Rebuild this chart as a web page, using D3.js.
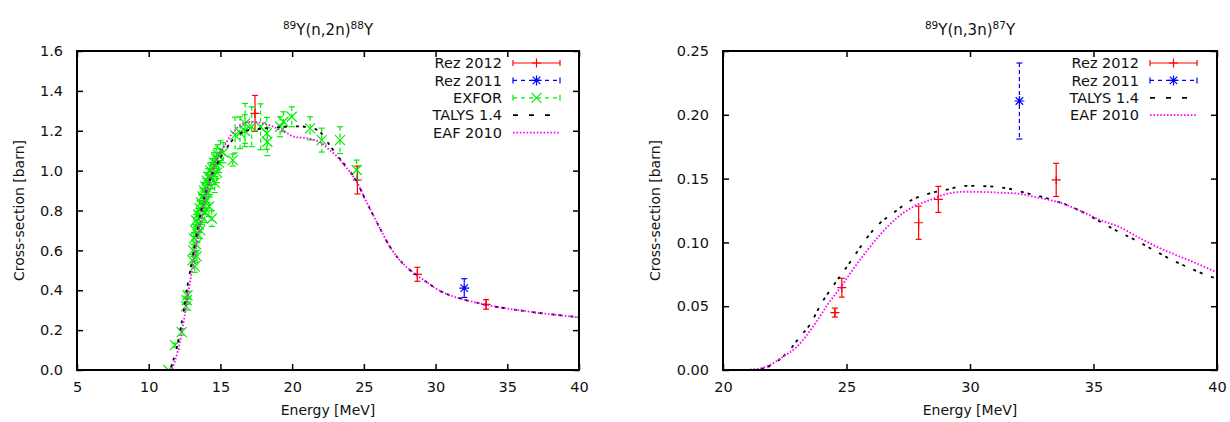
<!DOCTYPE html>
<html>
<head>
<meta charset="utf-8">
<script src="https://cdn.jsdelivr.net/npm/d3@7"></script>
<style>
  body { margin: 0; background: #fff; }
  svg text { font-family: "DejaVu Sans", sans-serif; fill: #111; }
</style>
</head>
<body>
<svg id="chart" width="1230" height="422"></svg>
<script>
// ---------- 89Y(n,2n)88Y ----------
// measured points: [energy MeV, cross-section barn, uncertainty barn]
const rez2012_2n = [[17.41, 1.287, 0.09], [24.55, 0.953, 0.07], [28.73, 0.480, 0.035], [33.52, 0.329, 0.024]];
const rez2011_2n = [[32.0, 0.411, 0.047]];
const exfor_2n = [
  [11.37, 0.0, 0.0], [11.83, 0.125, 0.01], [12.3, 0.19, 0.015], [12.6, 0.32, 0.02], [12.65, 0.35, 0.02], [12.7, 0.375, 0.02],
  [13.05, 0.55, 0.03], [13.1, 0.60, 0.03], [13.15, 0.66, 0.03], [13.2, 0.52, 0.03], [13.25, 0.70, 0.03], [13.3, 0.63, 0.04],
  [13.3, 0.75, 0.03], [13.35, 0.57, 0.03], [13.4, 0.68, 0.04], [13.45, 0.78, 0.03], [13.5, 0.73, 0.04], [13.55, 0.81, 0.04],
  [13.6, 0.70, 0.04], [13.65, 0.84, 0.04], [13.7, 0.77, 0.04], [13.75, 0.87, 0.04], [13.8, 0.82, 0.04], [13.85, 0.90, 0.04],
  [13.9, 0.79, 0.05], [13.95, 0.92, 0.04], [14.0, 0.85, 0.04], [14.05, 0.95, 0.04], [14.1, 0.89, 0.05], [14.15, 0.97, 0.04],
  [14.2, 0.82, 0.05], [14.25, 0.93, 0.05], [14.3, 1.00, 0.04], [14.35, 0.96, 0.05], [14.4, 0.76, 0.04], [14.45, 1.01, 0.05],
  [14.5, 0.98, 0.05], [14.55, 1.04, 0.05], [14.6, 0.94, 0.05], [14.65, 1.02, 0.05], [14.7, 1.06, 0.05], [14.75, 0.99, 0.05],
  [14.8, 1.08, 0.05], [14.9, 1.04, 0.05], [15.0, 1.10, 0.05], [15.2, 1.09, 0.05],
  [15.86, 1.053, 0.03], [16.02, 1.178, 0.09], [16.37, 1.19, 0.08], [16.7, 1.20, 0.08], [16.72, 1.237, 0.10], [17.18, 1.22, 0.10],
  [17.8, 1.22, 0.115], [18.23, 1.187, 0.08], [18.27, 1.145, 0.07], [19.16, 1.22, 0.05], [19.39, 1.245, 0.05], [19.97, 1.27, 0.05],
  [21.25, 1.212, 0.058], [22.06, 1.153, 0.06], [23.34, 1.153, 0.067], [24.5, 1.003, 0.05]
];
// evaluated curves: [energy MeV, cross-section barn]
const talys_2n = [
  [5, 0], [11.2, 0], [11.5, 0.01], [11.72, 0.05], [12.07, 0.15], [12.4, 0.28], [12.7, 0.42], [13.0, 0.54], [13.3, 0.66],
  [13.6, 0.78], [13.9, 0.87], [14.2, 0.94], [14.5, 0.995], [14.86, 1.045], [15.4, 1.11], [16.0, 1.165], [16.8, 1.2],
  [17.8, 1.21], [18.6, 1.215], [19.5, 1.22], [20.5, 1.222], [21.3, 1.215], [22.0, 1.19], [22.5, 1.14], [23.0, 1.09],
  [23.6, 1.035], [24.5, 0.945], [25.2, 0.84], [25.7, 0.77], [26.2, 0.70], [26.8, 0.62], [27.4, 0.56], [28.0, 0.515],
  [28.7, 0.475], [29.5, 0.435], [30.1, 0.405], [31.0, 0.375], [32.0, 0.353], [33.0, 0.335], [34.0, 0.32], [35.0, 0.308],
  [36.0, 0.298], [37.0, 0.288], [38.0, 0.28], [39.0, 0.272], [40, 0.264]
];
const eaf_2n = [
  [5, 0], [11.4, 0], [11.6, 0.005], [11.85, 0.05], [12.2, 0.15], [12.5, 0.27], [12.8, 0.41], [13.1, 0.53], [13.4, 0.66],
  [13.7, 0.78], [14.0, 0.88], [14.3, 0.96], [14.6, 1.03], [15.0, 1.09], [15.4, 1.14], [15.8, 1.185], [16.25, 1.22],
  [17.06, 1.245], [18.0, 1.237], [19.0, 1.21], [19.6, 1.19], [20.1, 1.17], [21.2, 1.16], [22.0, 1.14], [22.5, 1.11],
  [23.0, 1.08], [23.6, 1.03], [24.5, 0.945], [25.2, 0.84], [25.7, 0.77], [26.2, 0.70], [26.8, 0.62], [27.4, 0.56],
  [28.0, 0.515], [28.7, 0.475], [29.5, 0.435], [30.1, 0.405], [31.0, 0.375], [32.0, 0.353], [33.0, 0.335], [34.0, 0.32],
  [35.0, 0.308], [36.0, 0.298], [37.0, 0.288], [38.0, 0.28], [39.0, 0.272], [40, 0.264]
];

// ---------- 89Y(n,3n)87Y ----------
const rez2012_3n = [[24.53, 0.045, 0.0035], [24.81, 0.0645, 0.0074], [27.92, 0.1154, 0.013], [28.72, 0.1337, 0.0102], [33.49, 0.149, 0.013]];
const rez2011_3n = [[32.0, 0.2108, 0.0298]];
const talys_3n = [
  [20, 0], [21.3, 0], [21.62, 0.0013], [21.96, 0.0039], [22.43, 0.0105], [22.8, 0.018], [23.11, 0.026], [23.51, 0.0353],
  [23.99, 0.0523], [24.39, 0.064], [24.87, 0.077], [25.34, 0.090], [25.81, 0.1032], [26.35, 0.115], [26.96, 0.124],
  [27.64, 0.1332], [28.38, 0.1385], [29.12, 0.1416], [29.8, 0.1443], [30.68, 0.1440], [31.49, 0.1424], [32.3, 0.1385],
  [33.11, 0.1346], [33.92, 0.1293], [34.66, 0.1228], [35.27, 0.1162], [36.01, 0.1084], [36.69, 0.1019], [37.43, 0.094],
  [38.18, 0.0862], [38.92, 0.0797], [39.66, 0.0737], [40, 0.0715]
];
const eaf_3n = [
  [20, 0], [20.8, 0], [21.22, 0.0005], [21.76, 0.0026], [22.43, 0.0104], [22.98, 0.018], [23.38, 0.027], [23.79, 0.038],
  [24.26, 0.052], [24.73, 0.064], [25.27, 0.079], [25.81, 0.093], [26.35, 0.1058], [27.03, 0.119], [27.7, 0.128],
  [28.38, 0.1332], [29.06, 0.138], [29.8, 0.1397], [30.5, 0.1395], [31.2, 0.139], [32.03, 0.138], [32.71, 0.1353],
  [33.65, 0.1311], [34.46, 0.1248], [35.27, 0.1176], [36.08, 0.1118], [36.89, 0.1032], [37.7, 0.0954], [38.51, 0.0888],
  [39.32, 0.0823], [40, 0.0765]
];

// axis ticks
const xTicks2n = [5, 10, 15, 20, 25, 30, 35, 40];
const yTicks2n = [0, 0.2, 0.4, 0.6, 0.8, 1.0, 1.2, 1.4, 1.6];
const xTicks3n = [20, 25, 30, 35, 40];
const yTicks3n = [0, 0.05, 0.10, 0.15, 0.20, 0.25];

const COL = { rez12: "#ff0000", rez11: "#0000ff", exfor: "#00ee00", talys: "#000000", eaf: "#ff00ff" };
const TALYS_DASH = "3,4,3,9";
const EAF_DASH = "1.6,1.8";

const svg = d3.select("#chart");
let clipId = 0;

function drawMarker(g, type, x, y, color) {
  const s = type === "plus" ? 4.5 : 5;
  const p = d3.path();
  if (type === "plus" || type === "star") {
    p.moveTo(x - s, y); p.lineTo(x + s, y);
    p.moveTo(x, y - s); p.lineTo(x, y + s);
  }
  if (type === "cross" || type === "star") {
    const d = type === "star" ? s * 0.75 : s;
    p.moveTo(x - d, y - d); p.lineTo(x + d, y + d);
    p.moveTo(x - d, y + d); p.lineTo(x + d, y - d);
  }
  g.append("path").attr("d", p.toString()).attr("stroke", color)
    .attr("stroke-width", 1.2).attr("fill", "none");
}

function drawErrorSet(g, data, x, y, color, type, dashed) {
  const cap = 3;
  data.forEach(([e, v, err]) => {
    const cx = x(e), top = y(v + err), bot = y(v - err);
    if (err > 0) {
      g.append("line").attr("x1", cx).attr("x2", cx).attr("y1", top).attr("y2", bot)
        .attr("stroke", color).attr("stroke-width", 1.2)
        .attr("stroke-dasharray", dashed ? "4,3" : null);
      [top, bot].forEach(yy => g.append("line").attr("x1", cx - cap).attr("x2", cx + cap)
        .attr("y1", yy).attr("y2", yy).attr("stroke", color).attr("stroke-width", 1.2));
    }
    drawMarker(g, type, cx, y(v), color);
  });
}

function drawPanel(cfg) {
  const x = d3.scaleLinear().domain(cfg.xDomain).range([cfg.left, cfg.right]);
  const y = d3.scaleLinear().domain(cfg.yDomain).range([cfg.bottom, cfg.top]);
  const g = svg.append("g");
  const id = "clip" + (clipId++);
  svg.append("clipPath").attr("id", id).append("rect")
    .attr("x", cfg.left).attr("y", cfg.top)
    .attr("width", cfg.right - cfg.left).attr("height", cfg.bottom - cfg.top);

  // ticks, mirrored on all four sides and pointing inward
  const tickLen = 6;
  const axB = d3.axisBottom(x).tickValues(cfg.xTicks).tickSize(-tickLen).tickPadding(12).tickFormat(d3.format("d"));
  const axT = d3.axisTop(x).tickValues(cfg.xTicks).tickSize(-tickLen).tickFormat("");
  const axL = d3.axisLeft(y).tickValues(cfg.yTicks).tickSize(-tickLen).tickPadding(14).tickFormat(d3.format(cfg.yFmt));
  const axR = d3.axisRight(y).tickValues(cfg.yTicks).tickSize(-tickLen).tickFormat("");
  const axes = [
    [axB, `translate(0,${cfg.bottom})`], [axT, `translate(0,${cfg.top})`],
    [axL, `translate(${cfg.left},0)`], [axR, `translate(${cfg.right},0)`]
  ];
  axes.forEach(([ax, tr]) => {
    const a = g.append("g").attr("transform", tr).call(ax);
    a.select(".domain").remove();
    a.selectAll(".tick line").attr("stroke", "#000").attr("stroke-width", 1.5);
    a.selectAll(".tick text").attr("font-size", 14.5).attr("fill", "#111")
      .style("font-family", '"DejaVu Sans", sans-serif');
  });

  const plot = g.append("g").attr("clip-path", `url(#${id})`);
  const line = d3.line().x(d => x(d[0])).y(d => y(d[1])).curve(d3.curveMonotoneX);

  // measured data
  drawErrorSet(plot, cfg.rez12, x, y, COL.rez12, "plus", false);
  drawErrorSet(plot, cfg.rez11, x, y, COL.rez11, "star", true);
  if (cfg.exfor) drawErrorSet(plot, cfg.exfor, x, y, COL.exfor, "cross", true);

  // evaluated curves
  plot.append("path").datum(cfg.talys).attr("d", line).attr("fill", "none")
    .attr("stroke", COL.talys).attr("stroke-width", 1.8).attr("stroke-dasharray", TALYS_DASH);
  plot.append("path").datum(cfg.eaf).attr("d", line).attr("fill", "none")
    .attr("stroke", COL.eaf).attr("stroke-width", 1.8).attr("stroke-dasharray", EAF_DASH);

  // frame
  g.append("rect").attr("x", cfg.left).attr("y", cfg.top)
    .attr("width", cfg.right - cfg.left).attr("height", cfg.bottom - cfg.top)
    .attr("fill", "none").attr("stroke", "#000").attr("stroke-width", 2);

  // title with superscripted mass numbers
  const t = g.append("text").attr("x", (cfg.left + cfg.right) / 2).attr("y", 35)
    .attr("text-anchor", "middle").attr("font-size", 15);
  cfg.title.forEach(([s, sup]) => {
    const ts = t.append("tspan").text(s);
    if (sup) ts.attr("font-size", 10.5).attr("baseline-shift", "super");
  });

  // axis titles
  g.append("text").attr("x", (cfg.left + cfg.right) / 2).attr("y", 415)
    .attr("text-anchor", "middle").attr("font-size", 14).text("Energy [MeV]");
  g.append("text").attr("transform", `translate(${cfg.ylabX},${(cfg.top + cfg.bottom) / 2}) rotate(-90)`)
    .attr("text-anchor", "middle").attr("dominant-baseline", "central")
    .attr("font-size", 14).text("Cross-section [barn]");

  // key
  const lg = g.append("g");
  cfg.legend.forEach((item, i) => {
    const yy = cfg.legTop + i * 17.4;
    const x0 = cfg.legTextX + 11, x1 = x0 + 47, xm = (x0 + x1) / 2;
    lg.append("text").attr("x", cfg.legTextX).attr("y", yy).attr("dy", "0.36em")
      .attr("text-anchor", "end").attr("font-size", 14.5).text(item.label);
    const ln = lg.append("line").attr("x1", x0).attr("x2", x1).attr("y1", yy).attr("y2", yy)
      .attr("stroke", item.color);
    if (item.kind === "err") {
      ln.attr("stroke-width", 1.2).attr("stroke-dasharray", item.dashed ? "4,4" : null);
      [x0, x1].forEach(xx => lg.append("line").attr("x1", xx).attr("x2", xx)
        .attr("y1", yy - 3).attr("y2", yy + 3).attr("stroke", item.color).attr("stroke-width", 1.2));
      drawMarker(lg, item.marker, xm, yy, item.color);
    } else {
      ln.attr("stroke-width", 1.8).attr("stroke-dasharray", item.kind === "talys" ? "5,11" : EAF_DASH);
    }
  });
}

const legendFull = [
  { label: "Rez 2012", color: COL.rez12, kind: "err", marker: "plus", dashed: false },
  { label: "Rez 2011", color: COL.rez11, kind: "err", marker: "star", dashed: true },
  { label: "EXFOR", color: COL.exfor, kind: "err", marker: "cross", dashed: true },
  { label: "TALYS 1.4", color: COL.talys, kind: "talys" },
  { label: "EAF 2010", color: COL.eaf, kind: "eaf" }
];

drawPanel({
  left: 77, right: 579, top: 51, bottom: 370,
  xDomain: [5, 40], yDomain: [0, 1.6], xTicks: xTicks2n, yTicks: yTicks2n, yFmt: ".1f",
  rez12: rez2012_2n, rez11: rez2011_2n, exfor: exfor_2n, talys: talys_2n, eaf: eaf_2n,
  title: [["89", true], ["Y(n,2n)", false], ["88", true], ["Y", false]],
  ylabX: 19, legTextX: 502, legTop: 63, legend: legendFull
});

drawPanel({
  left: 723, right: 1217, top: 51, bottom: 370,
  xDomain: [20, 40], yDomain: [0, 0.25], xTicks: xTicks3n, yTicks: yTicks3n, yFmt: ".2f",
  rez12: rez2012_3n, rez11: rez2011_3n, exfor: null, talys: talys_3n, eaf: eaf_3n,
  title: [["89", true], ["Y(n,3n)", false], ["87", true], ["Y", false]],
  ylabX: 655, legTextX: 1139, legTop: 63,
  legend: legendFull.filter(d => d.label !== "EXFOR")
});
</script>
</body>
</html>
